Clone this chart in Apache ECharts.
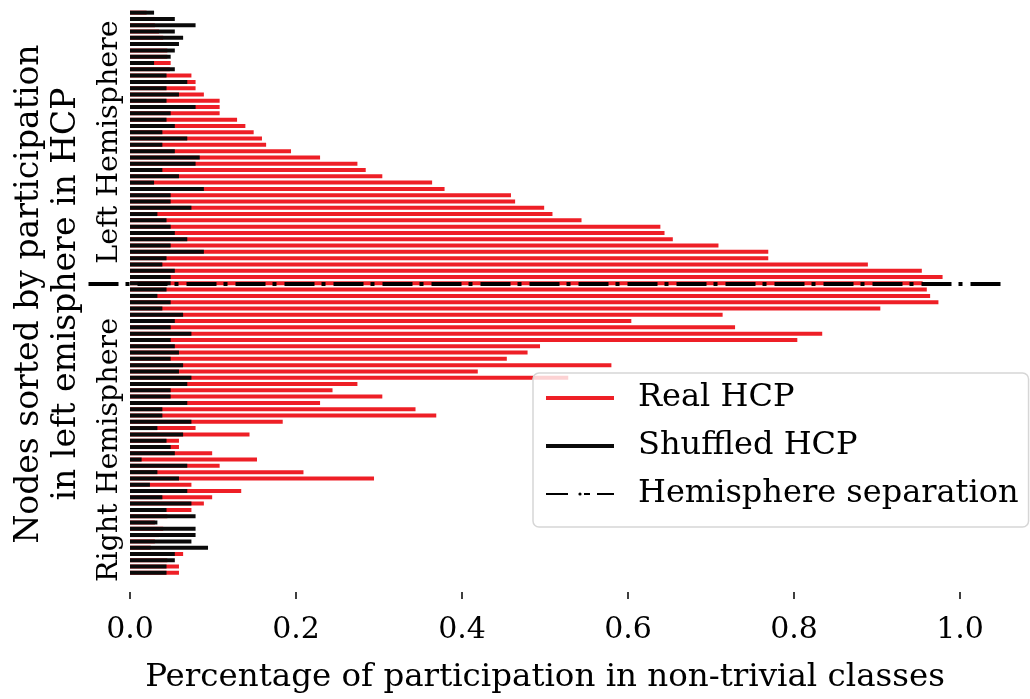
<!DOCTYPE html>
<html>
<head>
<meta charset="utf-8">
<script src="https://cdn.jsdelivr.net/npm/echarts@6/dist/echarts.min.js"></script>
<style>
  html, body { margin: 0; padding: 0; background: #fff; }
  #bar-map { width: 1030px; height: 699px; }
</style>
</head>
<body>
<div id="bar-map"></div>
<script>
// participation per node, top row first (left hemisphere, then right)
var realHCP = [
    0.020, 0.030, 0.030, 0.035, 0.040, 0.040, 0.045, 0.045, 0.049, 0.048,
    0.074, 0.079, 0.079, 0.089, 0.108, 0.108, 0.108, 0.129, 0.139, 0.149,
    0.159, 0.164, 0.194, 0.229, 0.274, 0.284, 0.304, 0.364, 0.379, 0.459,
    0.464, 0.499, 0.509, 0.544, 0.639, 0.644, 0.654, 0.709, 0.769, 0.769,
    0.889, 0.954, 0.979, 0.955, 0.960, 0.964, 0.974, 0.904, 0.714, 0.604,
    0.729, 0.834, 0.804, 0.494, 0.479, 0.454, 0.580, 0.419, 0.528, 0.274,
    0.244, 0.304, 0.229, 0.344, 0.369, 0.184, 0.079, 0.144, 0.059, 0.059,
    0.099, 0.153, 0.108, 0.209, 0.294, 0.074, 0.134, 0.099, 0.089, 0.074,
    0.045, 0.030, 0.040, 0.035, 0.030, 0.025, 0.064, 0.045, 0.059, 0.059
];
var shuffledHCP = [
    0.029, 0.054, 0.079, 0.054, 0.064, 0.059, 0.054, 0.049, 0.029, 0.054,
    0.044, 0.069, 0.044, 0.059, 0.044, 0.079, 0.049, 0.044, 0.054, 0.039,
    0.069, 0.039, 0.054, 0.084, 0.079, 0.039, 0.059, 0.029, 0.089, 0.049,
    0.049, 0.074, 0.033, 0.044, 0.049, 0.054, 0.069, 0.049, 0.089, 0.044,
    0.039, 0.054, 0.049, 0.049, 0.044, 0.033, 0.049, 0.039, 0.064, 0.054,
    0.049, 0.074, 0.049, 0.054, 0.059, 0.049, 0.064, 0.059, 0.074, 0.069,
    0.049, 0.049, 0.069, 0.039, 0.039, 0.074, 0.033, 0.064, 0.044, 0.049,
    0.054, 0.014, 0.069, 0.033, 0.059, 0.024, 0.069, 0.039, 0.074, 0.044,
    0.079, 0.033, 0.079, 0.079, 0.074, 0.094, 0.054, 0.054, 0.044, 0.044
];
var xTicks = [0, 0.2, 0.4, 0.6, 0.8, 1.0];
var separationRow = 43;
var nodes = realHCP.map(function (v, i) { return 'node' + i; });

var serif = 'DejaVu Serif';

option = {
    animation: false,
    legend: {
        orient: 'vertical',
        left: 533,
        top: 373,
        itemWidth: 68,
        itemHeight: 4,
        itemGap: 16,
        padding: [9, 10, 17, 12],
        backgroundColor: 'rgba(255,255,255,0.8)',
        borderColor: '#d6d6d6',
        borderWidth: 1.5,
        borderRadius: 6,
        textStyle: { fontFamily: serif, fontSize: 32, color: '#000', padding: [0, 0, 0, 19] },
        data: [
            { name: 'Real HCP', icon: 'rect' },
            { name: 'Shuffled HCP', icon: 'rect' },
            { name: 'Hemisphere separation' }
        ]
    },
    grid: {
        left: 88.5,
        right: 28.5,
        top: 9.5,
        height: 574.2
    },
    xAxis: {
        type: 'value',
        min: -0.05,
        max: 1.05,
        offset: 16,
        splitLine: { show: false },
        axisLine: { show: false },
        axisTick: { show: true, length: 7, lineStyle: { color: '#000', width: 1.5 }, customValues: xTicks },
        axisLabel: {
            customValues: xTicks,
            margin: 23,
            fontFamily: serif,
            fontSize: 30,
            color: '#000',
            formatter: function (v) { return v.toFixed(1); }
        },
        name: 'Percentage of participation in non-trivial classes',
        nameLocation: 'middle',
        nameGap: 69,
        nameTextStyle: { fontFamily: serif, fontSize: 32.5, color: '#000' }
    },
    yAxis: {
        type: 'category',
        inverse: true,
        data: nodes,
        axisLine: { show: false },
        axisTick: { show: false },
        axisLabel: { show: false }
    },
    series: [
        {
            name: 'Real HCP',
            type: 'bar',
            data: realHCP,
            barWidth: 4,
            barGap: '-100%',
            itemStyle: { color: '#ee1f26' }
        },
        {
            name: 'Shuffled HCP',
            type: 'bar',
            data: shuffledHCP,
            barWidth: 4,
            barGap: '-100%',
            itemStyle: { color: '#0a0a0a' }
        },
        {
            name: 'Hemisphere separation',
            type: 'line',
            data: [],
            symbol: 'none',
            z: 5,
            lineStyle: { color: '#000', width: 5, type: [22, 16, 6, 7] },
            itemStyle: { color: '#000' },
            markLine: {
                silent: true,
                symbol: 'none',
                label: { show: false },
                lineStyle: { color: '#000', width: 4, type: [30, 7, 4, 8] },
                data: [{ yAxis: nodes[separationRow] }]
            }
        }
    ],
    graphic: [
        {
            type: 'text', x: 48, y: 294, rotation: Math.PI / 2,
            style: {
                text: 'Nodes sorted by participation\nin left emisphere in HCP',
                font: '33px "DejaVu Serif"', lineHeight: 37,
                align: 'center', verticalAlign: 'middle', fill: '#000'
            }
        },
        {
            type: 'text', x: 110, y: 142, rotation: Math.PI / 2,
            style: { text: 'Left Hemisphere', font: '28.5px "DejaVu Serif"', align: 'center', verticalAlign: 'middle', fill: '#000' }
        },
        {
            type: 'text', x: 110, y: 450, rotation: Math.PI / 2,
            style: { text: 'Right Hemisphere', font: '28.5px "DejaVu Serif"', align: 'center', verticalAlign: 'middle', fill: '#000' }
        }
    ]
};
var bar = document.getElementById('bar-map');
var barMap = echarts.init(bar);
barMap.setOption(option);
</script>
</body>
</html>
